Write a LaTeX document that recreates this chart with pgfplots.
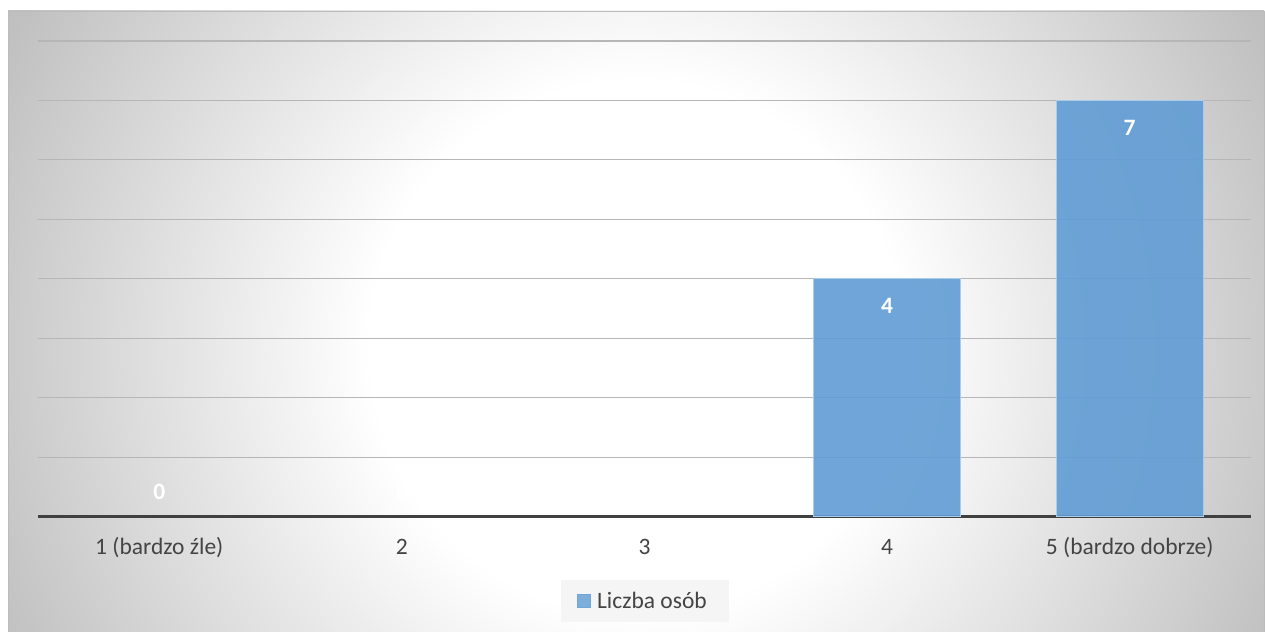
\documentclass[border=0pt]{standalone}
\usepackage{fontspec}
\setmainfont{Carlito}
\usepackage{pgfplots}
\pgfplotsset{compat=1.18}
\usetikzlibrary{backgrounds}
\definecolor{bgedge}{RGB}{192,192,192}
\definecolor{gridc}{RGB}{182,182,182}
\definecolor{txt}{RGB}{68,68,68}
\definecolor{axisc}{RGB}{64,64,64}
\definecolor{barblue}{RGB}{96,156,212}
\definecolor{baredge}{RGB}{170,204,236}
\definecolor{legbg}{RGB}{245,245,245}
\definecolor{framec}{RGB}{188,188,188}
\pgfdeclareradialshading{bgshade}{\pgfpoint{0bp}{0bp}}{color(0bp)=(white); color(8.75bp)=(white); color(23bp)=(bgedge); color(50bp)=(bgedge)}
\newcommand{\lblfont}{\fontsize{23.5bp}{28bp}\selectfont}
\begin{document}
\begin{tikzpicture}[x=1bp,y=1bp]
\begin{axis}[
  at={(38bp,115.3bp)}, anchor=south west,
  scale only axis, width=1213bp, height=475.7bp,
  xmin=-0.5, xmax=4.5, ymin=0, ymax=8,
  axis x line*=bottom, axis y line*=left,
  x axis line style={-, draw=axisc, line width=2.6bp},
  y axis line style={-, draw=none},
  ytick={1,2,3,4,5,6,7,8}, yticklabels={},
  ymajorgrids, grid style={draw=gridc, line width=1.1bp},
  xtick={0,1,2,3,4},
  xticklabels={1 (bardzo źle),2,3,4,5 (bardzo dobrze)},
  tick style={draw=none}, major tick length=0pt,
  xticklabel style={font=\lblfont, text=txt, inner sep=0pt, text height=18bp, text depth=5bp, yshift=-20bp},
  /pgf/number format/assume math mode=true,
  clip=false,
  legend style={at={(0.5004,-0.178)}, anchor=center, fill=legbg, draw=none,
    font=\lblfont, text=txt, inner xsep=16bp, inner ysep=12bp,
    nodes={inner xsep=6bp, inner ysep=0bp}},
]
\addplot[ybar, bar width=0.605, bar shift=0pt, fill=barblue, fill opacity=0.9, draw=baredge, line width=1bp,
  nodes near coords,
  nodes near coords style={font=\lblfont\bfseries, text=white, text opacity=1, anchor=center, inner sep=0pt, yshift=-27bp},
  legend image code/.code={\fill[barblue!90!white] (0bp,-6.5bp) rectangle (13bp,6.5bp);}]
  coordinates {(3,4) (4,7)};
\addlegendentry{Liczba osób}
\addplot[draw=none, mark=none, forget plot,
  nodes near coords,
  nodes near coords style={font=\lblfont\bfseries, text=white, anchor=center, inner sep=0pt, yshift=25bp}]
  coordinates {(0,0) (1,0) (2,0)};
\end{axis}
\begin{pgfonlayer}{background}
\begin{scope}
\clip (8,-5) rectangle (1264,621);
\shade[shading=bgshade] (636.5,285) circle (760);
\end{scope}
\draw[color=framec, line width=1.2bp] (8.6,-5) -- (8.6,620.4) -- (1264.4,620.4) -- (1264.4,-5);
\end{pgfonlayer}
\pgfresetboundingbox
\useasboundingbox (0,0) rectangle (1265,632);
\end{tikzpicture}
\end{document}
